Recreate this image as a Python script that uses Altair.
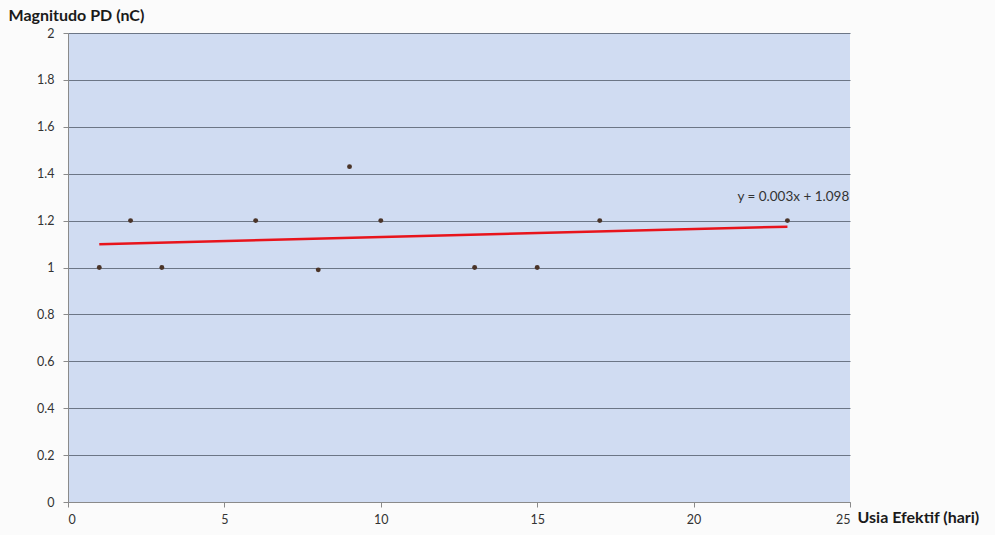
import altair as alt
import pandas as pd

usia = [1, 2, 3, 6, 8, 9, 10, 13, 15, 17, 23]
magnitudo = [1.0, 1.2, 1.0, 1.2, 0.99, 1.43, 1.2, 1.0, 1.0, 1.2, 1.2]
equation = ["y = 0.003x  + 1.098"]
eq_x = [21.4]
eq_y = [1.30]

df = pd.DataFrame({"x": usia, "y": magnitudo})
df_eq = pd.DataFrame({"label": equation, "x": eq_x, "y": eq_y})

W, H = 782, 469
FONT = "Lato"

xscale = alt.Scale(domain=[0, 25], nice=False, zero=True)
yscale = alt.Scale(domain=[0, 2], nice=False, zero=True)

xaxis = alt.Axis(
    values=[0, 5, 10, 15, 20, 25], grid=False, title="Usia Efektif (hari)",
    titleAngle=0, titleAlign="left", titleBaseline="middle", titleX=W + 7, titleY=15,
    titleFont=FONT, titleFontSize=16, titleFontWeight="bold", titleColor="#1a1a1a",
    labelFont=FONT, labelFontSize=12.5, labelColor="#333333", labelPadding=6,
    domainColor="#8a8a8a", tickColor="#8a8a8a", tickSize=5,
)
yaxis = alt.Axis(
    values=[0, 0.2, 0.4, 0.6, 0.8, 1, 1.2, 1.4, 1.6, 1.8, 2], grid=True,
    gridColor="#6c7686", gridWidth=1, title="Magnitudo PD (nC)",
    titleAngle=0, titleAlign="left", titleBaseline="middle", titleX=-60, titleY=-18,
    titleFont=FONT, titleFontSize=16, titleFontWeight="bold", titleColor="#1a1a1a",
    labelFont=FONT, labelFontSize=12.5, labelColor="#333333", labelPadding=9,
    domainColor="#8a8a8a", tickColor="#8a8a8a", tickSize=5,
    labelExpr="datum.value == 0 ? '0' : format(datum.value, '.1~f')",
)

base = alt.Chart(df)

points = base.mark_circle(size=24, color="#4a3428", opacity=1).encode(
    x=alt.X("x:Q", scale=xscale, axis=xaxis),
    y=alt.Y("y:Q", scale=yscale, axis=yaxis),
)

trend = base.transform_regression("x", "y").mark_line(color="#e8141c", strokeWidth=2.5).encode(
    x=alt.X("x:Q", scale=xscale),
    y=alt.Y("y:Q", scale=yscale),
)

eq = alt.Chart(df_eq).mark_text(
    align="left", baseline="middle", font=FONT, fontSize=13.5, color="#333333"
).encode(
    x=alt.X("x:Q", scale=xscale),
    y=alt.Y("y:Q", scale=yscale),
    text="label:N",
)

chart = alt.layer(trend, points, eq).properties(
    width=W, height=H,
    autosize=alt.AutoSizeParams(type="none"),
    padding={"left": 68, "top": 33, "right": 145, "bottom": 33},
    background="#fbfbfb",
).configure_view(
    fill="#d0dcf2", stroke=None
)

chart.save("out.html", embed_options={"renderer": "svg", "actions": False})
